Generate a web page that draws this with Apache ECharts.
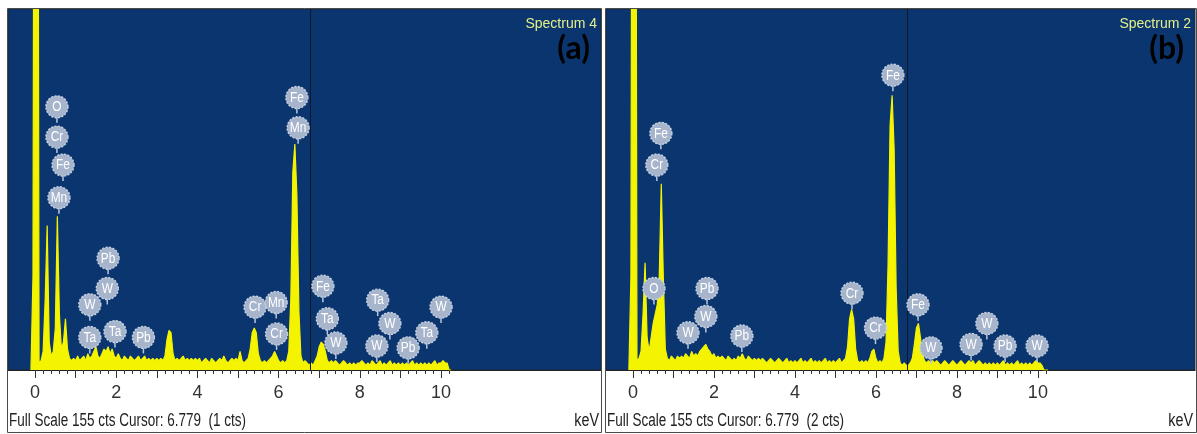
<!DOCTYPE html>
<html><head><meta charset="utf-8">
<script src="https://cdn.jsdelivr.net/npm/echarts@6/dist/echarts.min.js"></script>
<style>html,body{margin:0;padding:0;background:#fff}#c{width:1197px;height:434px}</style>
</head><body><div id="c"></div>
<script>
// Energy channel grid (keV): first channel and channel width
const E_START = -0.1;
const E_STEP = 0.05;

// Panel (a) counts per channel, Spectrum 4
const countsA = [
  0, 40,
  500, 500, 3, 4, 8, 30, 62, 12, 6, 8, 18, 66, 24, 9, 12, 22, 9, 5, 4, 5,
  4, 6, 4, 5, 6, 4, 7, 5, 6, 8, 10, 6, 5, 7, 9, 8, 10, 7, 9, 6,
  5, 7, 5, 4, 6, 5, 4, 6, 5, 4, 5, 6, 4, 5, 6, 4, 5, 4, 5, 4,
  5, 4, 5, 4, 6, 13, 17, 16, 7, 4, 5, 4, 5, 6, 4, 5, 4, 5, 4, 5,
  4, 5, 3, 4, 5, 4, 3, 5, 4, 3, 4, 5, 4, 6, 4, 3, 4, 5, 4, 5,
  4, 8, 4, 3, 4, 5, 9, 16, 18, 16, 7, 4, 3, 4, 3, 4, 5, 6, 8, 6,
  4, 3, 4, 3, 4, 8, 30, 85, 97, 75, 25, 6, 3, 4, 3, 2, 3, 2, 4, 6,
  10, 12, 11, 8, 4, 3, 4, 3, 4, 3, 2, 3, 4, 3, 2, 3, 2, 3, 2, 3,
  3, 4, 3, 2, 3, 2, 4, 3, 2, 3, 4, 2, 3, 2, 3, 4, 2, 3, 2, 3,
  2, 3, 2, 3, 2, 3, 4, 2, 3, 2, 3, 2, 3, 2, 3, 2, 3, 4, 2, 3,
  3, 4, 3, 3, 0, 0
];

// Panel (b) counts per channel, Spectrum 2
const countsB = [
  0, 40,
  500, 500, 4, 5, 8, 24, 46, 14, 8, 14, 20, 24, 28, 40, 80, 40, 9, 5, 4, 6,
  5, 4, 6, 5, 6, 5, 7, 6, 5, 8, 6, 7, 6, 8, 9, 10, 11, 9, 8, 6,
  7, 5, 6, 5, 6, 5, 4, 6, 5, 4, 5, 4, 6, 5, 7, 5, 4, 6, 5, 4,
  5, 4, 5, 4, 5, 4, 3, 4, 5, 4, 3, 4, 5, 4, 3, 4, 5, 3, 4, 3,
  4, 3, 4, 5, 3, 4, 3, 4, 5, 3, 4, 3, 4, 3, 4, 5, 3, 4, 3, 4,
  3, 4, 5, 3, 4, 5, 10, 22, 26, 22, 9, 4, 3, 4, 3, 4, 3, 5, 8, 9,
  5, 3, 4, 3, 5, 12, 45, 105, 118, 95, 35, 8, 3, 2, 3, 2, 2, 3, 5, 11,
  18, 20, 14, 7, 4, 3, 4, 3, 4, 3, 4, 3, 2, 3, 4, 3, 2, 3, 4, 3,
  2, 3, 4, 3, 2, 3, 4, 3, 4, 2, 3, 4, 3, 2, 3, 2, 3, 2, 3, 2,
  3, 2, 3, 4, 2, 3, 2, 3, 2, 3, 4, 2, 3, 2, 3, 2, 3, 2, 3, 4,
  3, 3, 2, 0, 0, 0
];

// Element markers (a)
const markNamesA = ['O','Cr','Fe','Mn','Pb','W','W','Ta','Ta','Pb','Cr','Mn','Cr','Fe','Mn','Fe','Ta','W','Ta','W','W','Pb','Ta','W'];
const markEnergyA = [0.54,0.54,0.69,0.59,1.80,1.78,1.35,1.35,1.97,2.67,5.42,5.94,5.95,6.45,6.48,7.09,7.20,7.41,8.44,8.42,8.74,9.19,9.65,10.0];
const markCountsA = [113,100,88,74,48,35,28,14,16.5,14,27,29,15.5,117,104,36,22,11.6,30,10.3,20,9.5,16,27];

// Element markers (b)
const markNamesB = ['Fe','Cr','O','Pb','W','W','Pb','Cr','Cr','Fe','Fe','W','W','W','Pb','W'];
const markEnergyB = [0.69,0.59,0.52,1.83,1.80,1.36,2.69,5.41,5.99,6.42,7.04,7.36,8.35,8.74,9.19,9.98];
const markCountsB = [101.6,88,35,35,23,16,14.6,33,18,126.6,28,9.5,11,20,10.3,10.3];

// Axis ticks / labels (keV)
const tickLabelValues = [0, 2, 4, 6, 8, 10];
const majorTickValues = [0,1,2,3,4,5,6,7,8,9,10];
const minorTickValues = [];
for (let k = 0; k <= 51; k++) minorTickValues.push(+(k * 0.2).toFixed(2));

const fullScale = 155;
const cursorKeV = 6.779;
const panelTitles = ['Spectrum 4', 'Spectrum 2'];
const panelTags = ['(a)', '(b)'];
const cursorTexts = ['Full Scale 155 cts Cursor: 6.779  (1 cts)', 'Full Scale 155 cts Cursor: 6.779  (2 cts)'];

const NARROW = '"Liberation Sans Narrow", "Liberation Sans", Arial, sans-serif';
const BLUE = '#0a356f';
const YEL = '#f4f400';

function toXY(counts){ return counts.map((c,i)=>[+(E_START + i*E_STEP).toFixed(3), c]); }

function markerRenderer(names){
  return function(params, api){
    const p = api.coord([api.value(0), api.value(1)]);
    const r = 11;
    return {type:'group', children:[
      {type:'line', shape:{x1:p[0],y1:p[1]+r-1,x2:p[0],y2:p[1]+r+5}, style:{stroke:'#b9c7db', lineWidth:1.5}},
      {type:'circle', shape:{cx:p[0],cy:p[1],r:r}, style:{fill:'#a6b5cb', stroke:'#c8d3e3', lineWidth:1.4, lineDash:[2,1.5]}},
      {type:'text', x:p[0], y:p[1]+0.5, scaleX:0.85, style:{text:names[params.dataIndex], fill:'#ffffff', font:'14px ' + NARROW, align:'center', verticalAlign:'middle'}}
    ]};
  };
}

const grids = [
  {left:8, top:9, width:593, height:361},
  {left:606, top:9, width:589, height:361}
];
const xMax = [13.94, 13.88];

const option = {
  animation:false,
  grid: grids.map(g=>Object.assign({show:true, backgroundColor:BLUE, borderColor:'#1c2a3a', borderWidth:1}, g)),
  xAxis: [],
  yAxis: [],
  series: [],
  graphic: []
};

[0,1].forEach(gi=>{
  option.xAxis.push({
    gridIndex:gi, type:'value', min:-0.665, max:xMax[gi],
    axisLine:{show:true, onZero:false, lineStyle:{color:'#222', width:1}},
    axisTick:{show:true, customValues:majorTickValues, length:8, lineStyle:{color:'#333'}},
    axisLabel:{customValues:tickLabelValues, margin:14, color:'#333', fontSize:18, fontFamily:NARROW},
    splitLine:{show:false}
  });
  option.xAxis.push({
    gridIndex:gi, type:'value', min:-0.665, max:xMax[gi], position:'bottom',
    axisLine:{show:false},
    axisTick:{show:true, customValues:minorTickValues, length:4, lineStyle:{color:'#333'}},
    axisLabel:{show:false}, splitLine:{show:false}
  });
  option.yAxis.push({gridIndex:gi, type:'value', min:0, max:fullScale, show:false, splitLine:{show:false}});
});

[[countsA, markNamesA, markEnergyA, markCountsA],[countsB, markNamesB, markEnergyB, markCountsB]].forEach((d,gi)=>{
  option.series.push({
    type:'line', xAxisIndex:gi*2, yAxisIndex:gi, data:toXY(d[0]), showSymbol:false, clip:true,
    lineStyle:{color:YEL, width:1.2}, areaStyle:{color:YEL, opacity:1}, z:2,
    markLine:{silent:true, symbol:'none', label:{show:false}, lineStyle:{color:'#101820', width:1, type:'solid'},
      data:[{xAxis:cursorKeV}]}
  });
  option.series.push({
    type:'custom', xAxisIndex:gi*2, yAxisIndex:gi, renderItem:markerRenderer(d[1]),
    data:d[2].map((e,i)=>[e, d[3][i]]), z:5, clip:false
  });
});

const panelBox = [{x:7, w:594}, {x:605, w:591}];
[0,1].forEach(gi=>{
  const g = grids[gi];
  const right = g.left + g.width;
  option.graphic.push(
    {type:'rect', shape:{x:panelBox[gi].x+0.5, y:8.5, width:panelBox[gi].w, height:424}, style:{fill:'none', stroke:'#4a4a4a', lineWidth:1}, z:100},
    {type:'text', x:g.left+1, y:412, scaleX:0.75, style:{text:cursorTexts[gi], font:'18px ' + NARROW, fill:'#222'}, z:100},
    {type:'text', x:right-2, y:412, scaleX:0.8, style:{text:'keV', font:'18px ' + NARROW, fill:'#222', align:'right'}, z:100},
    {type:'text', x:right-4, y:17, style:{text:panelTitles[gi], font:'14px ' + NARROW, fill:'#e3f08a', align:'right'}, z:100},
    {type:'text', x:right-11, y:33, style:{text:panelTags[gi], font:'bold 32px Lato, "Open Sans", sans-serif', fill:'#000', align:'right'}, z:100}
  );
});

const chart = echarts.init(document.getElementById('c'), null, {renderer:'canvas'});
chart.setOption(option);
</script>
</body></html>
